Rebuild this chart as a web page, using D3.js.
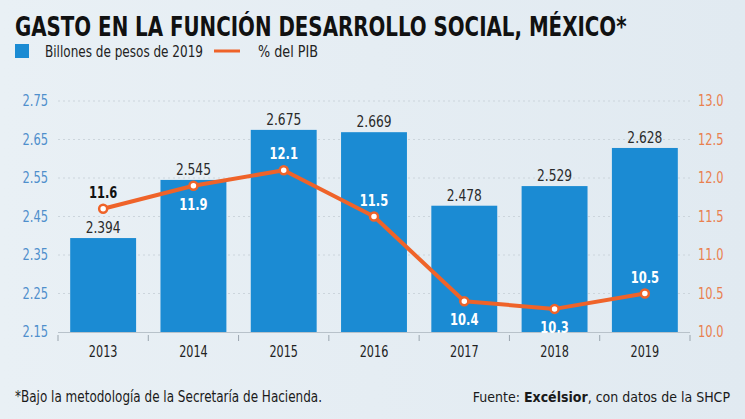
<!DOCTYPE html>
<html><head><meta charset="utf-8">
<script src="https://cdn.jsdelivr.net/npm/d3@7"></script>
<style>
html,body{margin:0;padding:0;background:#e5edf3;}
svg{display:block;}
</style></head><body>
<svg id="c" width="745" height="419"></svg>
<script>
const years = ["2013","2014","2015","2016","2017","2018","2019"];
const billones = [2.394, 2.545, 2.675, 2.669, 2.478, 2.529, 2.628];
const pib = [11.6, 11.9, 12.1, 11.5, 10.4, 10.3, 10.5];
const billonesLabels = ["2.394","2.545","2.675","2.669","2.478","2.529","2.628"];
const pibLabels = ["11.6","11.9","12.1","11.5","10.4","10.3","10.5"];
const pibLabelPos = ["above","below","above","above","below","below","above"];
const leftTicks = [2.15, 2.25, 2.35, 2.45, 2.55, 2.65, 2.75];
const rightTicks = [10.0, 10.5, 11.0, 11.5, 12.0, 12.5, 13.0];

const svg = d3.select("#c");
const narrow = "'DejaVu Sans Condensed','Liberation Sans Narrow',sans-serif";
const barColor = "#1b8bd3", lineColor = "#ef6329";

function condense(sel, f){
  sel.each(function(){
    const w = this.getComputedTextLength();
    d3.select(this).attr("textLength", w*f).attr("lengthAdjust","spacingAndGlyphs");
  });
}

// background gradient
const defs = svg.append("defs");
const g0 = defs.append("linearGradient").attr("id","bg").attr("x1","0").attr("x2","1").attr("y1","0").attr("y2","0");
g0.append("stop").attr("offset","0").attr("stop-color","#e9f0f5");
g0.append("stop").attr("offset","1").attr("stop-color","#e1eaf1");
svg.append("rect").attr("width",745).attr("height",419).attr("fill","url(#bg)");

// title (scaled horizontally to mimic condensed face)
const tg = svg.append("g");
const tt = tg.append("text").attr("x",0).attr("y",0)
  .attr("font-family",narrow).attr("font-weight","bold").attr("font-size",27)
  .attr("fill","#111")
  .text("GASTO EN LA FUNCIÓN DESARROLLO SOCIAL, MÉXICO*");
const tw = tt.node().getComputedTextLength();
tg.attr("transform",`translate(15,36) scale(${612/tw},1)`);

// legend
svg.append("rect").attr("x",15).attr("y",44).attr("width",14).attr("height",14).attr("fill",barColor);
svg.append("text").attr("x",45).attr("y",57).attr("font-family",narrow).attr("font-size",15)
  .attr("fill","#222").attr("textLength",158).attr("lengthAdjust","spacingAndGlyphs").text("Billones de pesos de 2019");
svg.append("line").attr("x1",214).attr("x2",240).attr("y1",51).attr("y2",51).attr("stroke",lineColor).attr("stroke-width",3);
svg.append("text").attr("x",258).attr("y",57).attr("font-family",narrow).attr("font-size",15)
  .attr("fill","#222").attr("textLength",60).attr("lengthAdjust","spacingAndGlyphs").text("% del PIB");

// scales
const x = d3.scaleBand().domain(years).range([58,690]).paddingInner(0.27).paddingOuter(0.135);
const yL = d3.scaleLinear().domain([2.15,2.75]).range([332,101]);
const yR = d3.scaleLinear().domain([10,13]).range([332,101]);

// gridlines
svg.append("g").selectAll("line").data(leftTicks.slice(1)).join("line")
  .attr("x1",58).attr("x2",690).attr("y1",d=>yL(d)).attr("y2",d=>yL(d))
  .attr("stroke","#ccd5dc").attr("stroke-width",1).attr("stroke-dasharray","2,3");

// left axis
const axL = d3.axisLeft(yL).tickValues(leftTicks).tickFormat(d3.format(".2f")).tickSize(0).tickPadding(10);
const gL = svg.append("g").attr("transform","translate(58,0)").call(axL);
gL.select(".domain").remove();
gL.selectAll("text").attr("font-family",narrow).attr("font-size",15).attr("fill","#4f8fcc").attr("x",-10)
  .call(condense,0.85);

// right axis
const axR = d3.axisRight(yR).tickValues(rightTicks).tickFormat(d3.format(".1f")).tickSize(0).tickPadding(8);
const gR = svg.append("g").attr("transform","translate(690,0)").call(axR);
gR.select(".domain").remove();
gR.selectAll("text").attr("font-family",narrow).attr("font-size",15).attr("fill","#e9804f")
  .call(condense,0.85);

// bars
svg.append("g").selectAll("rect").data(years).join("rect")
  .attr("x",d=>x(d)).attr("width",x.bandwidth())
  .attr("y",(d,i)=>yL(billones[i])).attr("height",(d,i)=>yL(2.15)-yL(billones[i]))
  .attr("fill",barColor);

// bottom axis
const axB = d3.axisBottom(x).tickSize(0).tickPadding(14);
const gB = svg.append("g").attr("transform","translate(0,332)").call(axB);
gB.select(".domain").attr("stroke","#b8c2ca").attr("d","M58,0.5H690");
gB.selectAll("text").attr("font-family",narrow).attr("font-size",16).attr("fill","#222")
  .call(condense,0.78);
// separator ticks
const bounds = years.map(d=>x(d)-x.step()*x.paddingInner()/2).concat([690]);
svg.append("g").selectAll("line").data(bounds).join("line")
  .attr("x1",d=>d).attr("x2",d=>d).attr("y1",335).attr("y2",341)
  .attr("stroke","#9aa5ae").attr("stroke-width",1);

// bar value labels
svg.append("g").selectAll("text").data(years).join("text")
  .attr("x",d=>x(d)+x.bandwidth()/2).attr("y",(d,i)=>yL(billones[i])-5)
  .attr("text-anchor","middle").attr("font-family",narrow).attr("font-size",16).attr("fill","#2a2a2a")
  .text((d,i)=>billonesLabels[i])
  .call(condense,0.85);

// line
const line = d3.line().x((d,i)=>x(years[i])+x.bandwidth()/2).y(d=>yR(d));
svg.append("path").datum(pib).attr("d",line).attr("fill","none")
  .attr("stroke",lineColor).attr("stroke-width",4).attr("stroke-linejoin","round");
svg.append("g").selectAll("circle").data(pib).join("circle")
  .attr("cx",(d,i)=>x(years[i])+x.bandwidth()/2).attr("cy",d=>yR(d)).attr("r",4)
  .attr("fill","#fff").attr("stroke",lineColor).attr("stroke-width",2.5);

// line labels
svg.append("g").selectAll("text").data(pib).join("text")
  .attr("x",(d,i)=>x(years[i])+x.bandwidth()/2)
  .attr("y",(d,i)=>pibLabelPos[i]==="above"? yR(d)-11 : yR(d)+24)
  .attr("text-anchor","middle").attr("font-family",narrow).attr("font-weight","bold").attr("font-size",16)
  .attr("fill",(d,i)=>i===0?"#111":"#ffffff")
  .text((d,i)=>pibLabels[i])
  .call(condense,0.8);

// footer
svg.append("text").attr("x",15).attr("y",402).attr("font-family",narrow).attr("font-size",15)
  .attr("fill","#1a1a1a").attr("textLength",307).attr("lengthAdjust","spacingAndGlyphs")
  .text("*Bajo la metodología de la Secretaría de Hacienda.");
const ft = svg.append("text").attr("x",730).attr("y",402).attr("text-anchor","end")
  .attr("font-family","'DejaVu Sans Condensed','Liberation Sans',sans-serif").attr("font-size",14).attr("fill","#1a1a1a");
ft.append("tspan").text("Fuente: ");
ft.append("tspan").attr("font-weight","bold").text("Excélsior");
ft.append("tspan").text(", con datos de la SHCP");
</script>
</body></html>
